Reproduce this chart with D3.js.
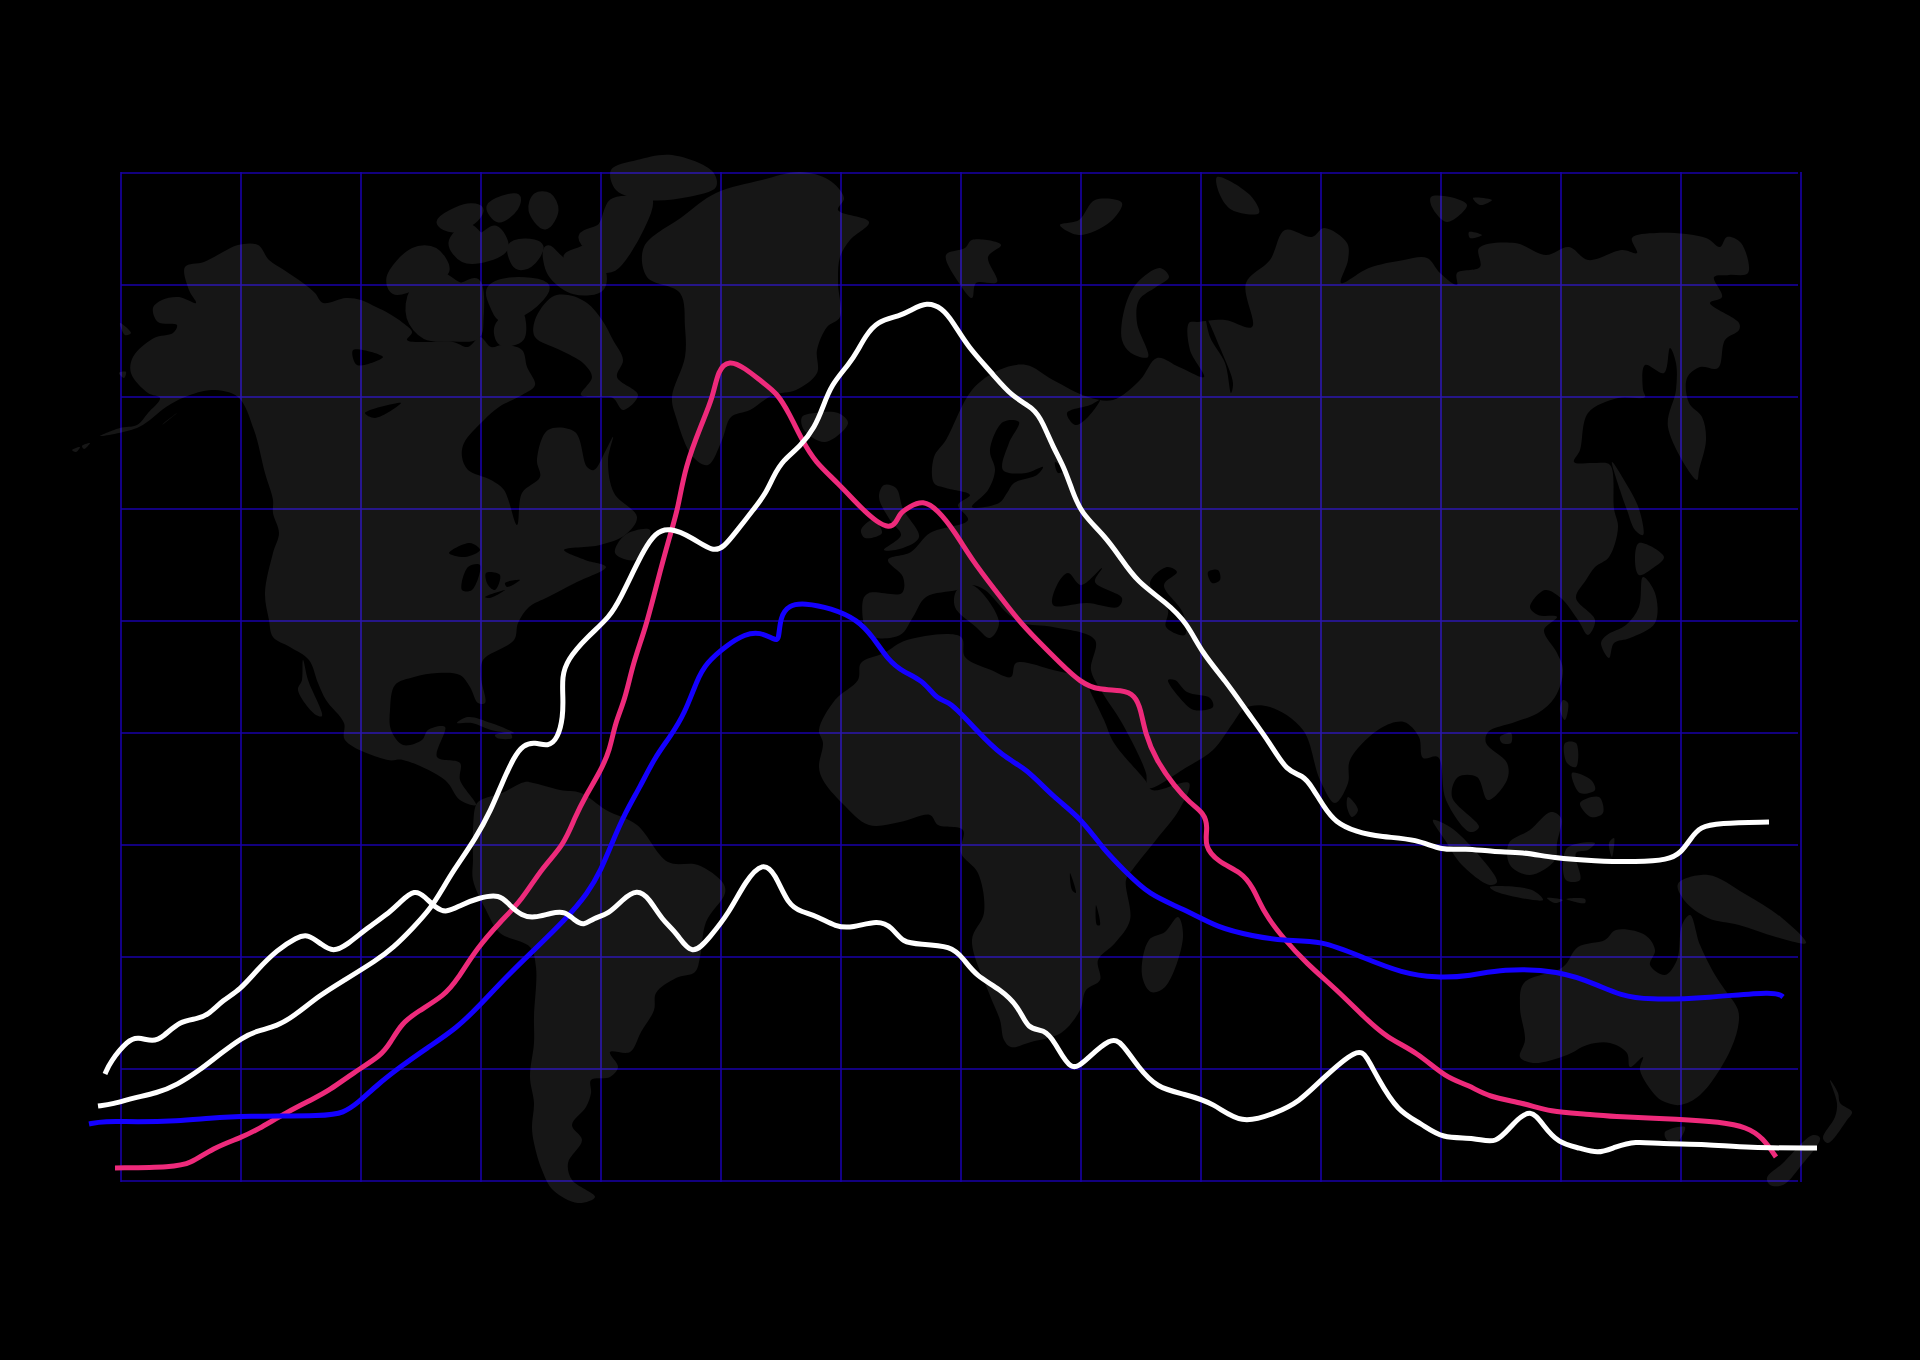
<!DOCTYPE html>
<html><head><meta charset="utf-8">
<script src="https://cdn.jsdelivr.net/npm/d3@7"></script>
<style>html,body{margin:0;background:#000;overflow:hidden}svg{display:block}</style>
</head><body><svg id="c" width="1920" height="1360"></svg>
<script>
// Series values: [horizontal value, vertical value]
const whiteTall=[[-23,75],[-8,77],[12,83],[36,88],[56,96],[79,111],[99,127],[122,144],[136,150],[156,155],[172,164],[199,186],[222,200],[256,221],[272,233],[292,253],[310,273],[321,291],[332,310],[355,343],[370,371],[381,398],[393,424],[402,436],[414,439],[427,434],[437,443],[442,464],[442,484],[441,504],[446,521],[466,544],[489,564],[500,584],[513,611],[523,631],[534,648],[548,654],[572,643],[592,629],[603,634],[614,648],[633,672],[645,688],[652,704],[662,721],[679,734],[694,754],[702,774],[710,796],[729,818],[737,831],[744,844],[756,860],[779,865],[790,871],[806,879],[821,873],[832,859],[847,834],[870,809],[891,784],[913,773],[922,758],[932,734],[943,714],[951,691],[960,668],[983,646],[999,624],[1016,599],[1046,578],[1066,558],[1081,528],[1104,501],[1127,468],[1149,438],[1166,409],[1182,406],[1191,394],[1203,374],[1214,359],[1235,349],[1260,344],[1296,342],[1321,330],[1344,333],[1371,329],[1402,329],[1432,323],[1474,320],[1516,319],[1547,321],[1560,328],[1570,343],[1579,354],[1597,358],[1648,359]];
const whiteLow=[[-16,107],[-11,119],[7,141],[17,144],[32,139],[42,144],[59,160],[76,162],[87,166],[102,181],[119,191],[136,211],[156,231],[176,244],[187,247],[201,236],[212,229],[226,236],[246,253],[267,267],[279,279],[294,292],[304,284],[315,273],[325,268],[340,276],[357,283],[379,287],[388,276],[401,265],[413,263],[430,268],[444,270],[453,261],[463,255],[472,263],[488,267],[501,281],[516,292],[528,283],[541,261],[556,248],[571,224],[589,244],[608,268],[625,301],[642,319],[654,308],[667,276],[681,269],[696,265],[715,254],[731,253],[757,261],[771,254],[782,238],[799,237],[830,235],[842,223],[855,205],[879,192],[898,174],[907,151],[923,152],[934,139],[950,108],[965,121],[990,144],[1001,138],[1017,114],[1036,93],[1063,87],[1093,78],[1120,56],[1155,68],[1178,79],[1200,101],[1237,134],[1246,124],[1256,104],[1277,69],[1300,58],[1321,42],[1354,44],[1375,36],[1392,58],[1410,73],[1422,56],[1437,38],[1459,33],[1477,27],[1494,34],[1514,40],[1539,37],[1586,37],[1626,33],[1696,33]];
const pinkSeries=[[-6,13],[52,14],[69,17],[92,33],[119,43],[136,51],[166,69],[192,82],[209,91],[232,108],[261,126],[269,138],[281,158],[296,169],[324,186],[336,201],[356,233],[379,259],[401,281],[420,312],[443,336],[454,364],[464,384],[479,409],[489,431],[494,458],[504,481],[512,518],[525,554],[536,598],[549,646],[557,672],[564,714],[581,758],[592,784],[597,811],[608,821],[624,813],[641,799],[656,788],[668,768],[681,741],[694,719],[717,698],[742,671],[756,659],[768,653],[775,658],[779,668],[788,674],[802,681],[817,671],[834,649],[851,621],[874,591],[897,561],[916,541],[939,518],[960,498],[978,491],[1001,491],[1014,486],[1020,471],[1024,448],[1035,421],[1054,394],[1069,378],[1083,368],[1087,354],[1083,335],[1097,319],[1120,309],[1132,294],[1143,268],[1162,243],[1185,218],[1216,191],[1243,164],[1266,143],[1296,129],[1325,103],[1348,96],[1367,84],[1403,78],[1429,69],[1466,67],[1496,64],[1559,62],[1599,59],[1626,54],[1642,43],[1655,24]];
const blueSeries=[[-32,57],[-18,60],[16,59],[56,60],[89,63],[122,65],[206,65],[222,68],[237,78],[256,96],[279,114],[306,133],[336,153],[359,176],[386,205],[413,231],[444,261],[467,288],[480,311],[491,338],[504,368],[519,394],[534,424],[549,444],[564,468],[576,501],[585,518],[606,536],[624,547],[639,549],[654,541],[658,541],[659,564],[668,576],[683,578],[710,573],[737,561],[752,544],[767,521],[782,509],[802,501],[817,480],[828,481],[855,451],[882,424],[905,413],[932,384],[960,363],[982,332],[1003,311],[1028,286],[1063,272],[1097,253],[1132,245],[1162,240],[1200,241],[1243,223],[1281,208],[1315,203],[1350,205],[1380,212],[1438,211],[1479,195],[1499,186],[1526,181],[1587,183],[1655,190],[1662,184]];
const xTickValues=[0,120,240,360,480,600,720,840,960,1080,1200,1320,1440,1560,1680];
const yTickValues=[0,112,224,336,448,560,672,784,896,1008];

// Background map outlines
const arcticRings=[
[[491,290],[510,282],[545,287],[529,307],[502,317],[495,307]],
[[391,278],[414,252],[434,252],[445,270],[426,280],[395,290]],
[[414,292],[437,275],[460,287],[476,283],[479,320],[476,335],[453,337],[426,335],[411,317]],
[[499,327],[518,313],[520,337],[502,341]],
[[441,222],[468,208],[479,210],[472,220],[453,228]],
[[453,243],[468,228],[481,237],[495,230],[504,247],[487,257],[464,258]],
[[491,207],[516,198],[514,207],[499,218]],
[[512,247],[525,243],[539,247],[529,263],[518,265]],
[[537,197],[548,197],[554,210],[545,225],[533,210]],
[[548,250],[564,263],[600,270],[600,287],[575,290],[552,273]],
[[568,257],[587,247],[583,237],[602,227],[613,203],[632,200],[648,200],[640,227],[613,267],[602,268],[583,260]]
];
const landRings=[
[[100,436],[120,428],[137,425],[148,413],[160,398],[148,393],[131,373],[133,357],[154,338],[173,333],[177,325],[158,322],[153,308],[162,300],[179,297],[196,303],[189,290],[185,267],[204,262],[223,252],[238,245],[258,245],[269,260],[284,270],[303,283],[315,293],[323,303],[346,298],[361,300],[376,307],[388,313],[403,323],[412,332],[407,340],[430,342],[453,342],[468,347],[480,337],[491,347],[503,345],[522,350],[527,367],[535,385],[522,395],[499,407],[484,420],[464,443],[462,457],[468,470],[491,480],[504,490],[517,525],[522,493],[540,477],[537,460],[548,430],[575,432],[587,467],[594,470],[606,450],[613,437],[608,460],[614,493],[637,517],[625,535],[600,545],[564,550],[585,560],[606,567],[575,583],[548,597],[529,607],[518,623],[514,640],[483,660],[481,677],[485,703],[478,703],[470,687],[460,675],[437,673],[414,677],[395,685],[390,710],[391,730],[403,745],[422,740],[428,730],[445,727],[437,757],[460,763],[460,780],[476,805],[460,800],[445,780],[403,760],[388,760],[345,740],[344,723],[326,700],[318,683],[309,660],[290,647],[273,637],[269,620],[265,593],[273,553],[279,533],[273,513],[273,500],[265,473],[254,430],[238,397],[212,390],[185,397],[166,407],[139,427]],
[[535,320],[552,297],[568,295],[587,303],[602,320],[613,340],[623,360],[617,377],[638,395],[623,410],[613,398],[598,397],[581,395],[592,377],[583,363],[560,350],[535,337]],
[[611,170],[637,160],[672,155],[713,172],[716,187],[688,197],[647,200],[616,190]],
[[615,553],[625,535],[650,530],[635,560]],
// Greenland
[[644,247],[682,217],[716,193],[762,180],[800,172],[829,180],[844,198],[838,210],[869,222],[850,240],[840,257],[838,283],[840,317],[827,327],[817,350],[817,373],[796,390],[773,395],[750,410],[731,417],[722,440],[708,465],[693,457],[676,417],[672,397],[685,357],[685,327],[680,293],[647,277]],
[[802,417],[815,413],[838,413],[848,423],[825,442],[804,430]],
[[946,255],[965,248],[972,240],[1001,245],[988,257],[997,282],[976,283],[972,298],[959,283]],
[[1060,225],[1079,220],[1095,200],[1122,203],[1110,222],[1079,235]],
[[1160,268],[1169,277],[1156,287],[1139,300],[1137,323],[1148,357],[1131,353],[1122,340],[1125,307],[1137,283]],
[[1217,177],[1250,195],[1259,213],[1232,210],[1220,195]],
[[1431,197],[1450,197],[1467,205],[1447,222],[1432,207]],
[[1473,198],[1492,200],[1480,205]],
[[1469,232],[1482,235],[1470,238]],
// Eurasia
[[1053,627],[1022,623],[1007,613],[985,590],[972,585],[957,590],[926,597],[913,617],[900,635],[869,635],[863,600],[869,593],[902,593],[903,577],[888,560],[911,552],[930,533],[968,520],[958,505],[970,495],[946,488],[934,483],[934,457],[946,440],[972,390],[999,370],[1026,365],[1053,380],[1088,397],[1113,400],[1140,380],[1157,358],[1179,367],[1204,377],[1190,350],[1189,323],[1198,322],[1225,320],[1252,327],[1246,283],[1270,260],[1285,230],[1312,237],[1324,228],[1347,243],[1348,260],[1341,283],[1369,268],[1404,260],[1427,258],[1440,273],[1457,285],[1457,273],[1480,267],[1479,248],[1515,243],[1546,255],[1569,247],[1588,260],[1622,250],[1637,253],[1632,238],[1657,233],[1706,238],[1720,247],[1727,237],[1741,243],[1748,273],[1729,275],[1714,277],[1722,297],[1710,303],[1739,323],[1739,330],[1725,340],[1718,368],[1700,367],[1687,378],[1689,403],[1702,417],[1706,440],[1699,470],[1697,480],[1668,427],[1676,390],[1676,363],[1670,348],[1664,373],[1645,365],[1643,390],[1645,397],[1618,398],[1588,413],[1580,450],[1574,462],[1595,463],[1610,465],[1614,509],[1618,527],[1609,557],[1595,567],[1586,580],[1576,598],[1595,620],[1588,635],[1578,620],[1561,598],[1545,590],[1530,607],[1538,615],[1557,617],[1544,630],[1557,653],[1563,670],[1555,697],[1538,713],[1515,722],[1488,732],[1486,743],[1507,763],[1507,780],[1488,800],[1477,777],[1458,777],[1452,797],[1479,827],[1470,832],[1446,800],[1438,757],[1423,758],[1419,737],[1404,722],[1381,728],[1350,760],[1348,783],[1335,803],[1320,780],[1303,730],[1270,707],[1245,708],[1233,723],[1213,750],[1187,767],[1148,788],[1146,773],[1122,723],[1102,692],[1091,670],[1095,640]],
[[957,590],[972,585],[999,622],[990,638],[976,627],[955,607]],
[[884,485],[896,488],[903,509],[919,537],[903,548],[884,550],[901,535],[890,520],[879,497]],
[[861,530],[873,520],[882,533],[865,538]],
[[1348,797],[1358,810],[1352,817],[1347,807]],
[[1500,737],[1511,733],[1511,743],[1502,743]],
[[1563,700],[1568,703],[1565,720],[1560,710]],
[[1601,643],[1607,635],[1626,625],[1639,607],[1643,577],[1655,593],[1655,623],[1630,638],[1614,643],[1609,658]],
[[1639,543],[1664,557],[1653,568],[1639,575],[1635,560]],
[[1612,462],[1624,480],[1639,509],[1643,535],[1635,530],[1627,510],[1620,490]],
[[1565,743],[1576,743],[1576,767],[1567,763]],
[[1572,773],[1591,780],[1595,790],[1580,793]],
[[1580,803],[1599,797],[1603,813],[1591,817]],
[[1433,820],[1450,827],[1477,853],[1497,882],[1490,885],[1462,865],[1445,840]],
[[1509,843],[1530,830],[1551,812],[1561,818],[1557,843],[1555,860],[1530,875],[1510,865]],
[[1490,887],[1532,890],[1543,900],[1497,892]],
[[1547,898],[1563,900],[1555,903]],
[[1566,899],[1585,899],[1585,903]],
[[1567,848],[1595,843],[1588,850],[1576,853],[1580,880],[1566,880]],
[[1609,843],[1614,838],[1612,857]],
[[1678,884],[1708,875],[1745,894],[1782,918],[1806,943],[1776,937],[1739,925],[1708,918],[1684,900]],
// Australia, Tasmania, New Zealand
[[1524,983],[1563,967],[1578,947],[1605,940],[1616,930],[1645,935],[1655,950],[1650,965],[1665,975],[1677,960],[1682,925],[1690,915],[1700,945],[1715,975],[1725,990],[1738,1010],[1738,1027],[1727,1057],[1700,1095],[1680,1105],[1665,1102],[1657,1097],[1640,1070],[1643,1057],[1630,1067],[1627,1053],[1610,1043],[1587,1045],[1567,1055],[1533,1063],[1520,1057],[1525,1040],[1520,1007]],
[[1665,1132],[1685,1127],[1677,1142],[1667,1140]],
[[1767,1178],[1783,1163],[1813,1135],[1820,1138],[1800,1167],[1783,1185],[1770,1185]],
[[1830,1080],[1838,1093],[1840,1103],[1852,1112],[1847,1120],[1828,1143],[1823,1138],[1835,1117],[1837,1103]],
[[1178,917],[1183,937],[1165,987],[1151,992],[1142,975],[1149,940],[1165,932]],
// Africa
[[819,730],[835,700],[858,680],[861,663],[884,653],[907,640],[961,637],[965,657],[991,670],[1011,677],[1016,663],[1053,670],[1085,680],[1091,693],[1104,720],[1114,743],[1145,780],[1152,790],[1189,783],[1179,810],[1156,840],[1133,869],[1126,880],[1130,920],[1115,943],[1098,960],[1100,980],[1086,990],[1080,1010],[1061,1033],[1031,1042],[1011,1047],[1004,1040],[1000,1020],[989,993],[972,940],[984,913],[978,873],[961,853],[963,830],[938,825],[930,815],[900,822],[869,825],[842,803],[823,780],[819,767],[823,743]],
// South America
[[481,800],[502,793],[525,782],[533,783],[560,790],[581,793],[606,810],[637,825],[668,862],[698,865],[723,883],[725,893],[706,922],[700,957],[695,972],[676,978],[656,993],[654,1010],[641,1032],[630,1052],[610,1052],[618,1067],[610,1077],[591,1080],[591,1093],[586,1107],[572,1125],[582,1140],[568,1163],[572,1180],[595,1197],[578,1203],[553,1190],[542,1170],[534,1143],[532,1127],[534,1103],[530,1077],[534,1043],[534,1017],[536,967],[530,947],[500,933],[486,910],[473,880],[473,860],[473,830],[476,805]],
[[457,723],[468,717],[491,723],[514,733],[491,730],[472,723]],
[[495,735],[510,733],[512,738],[497,738]],
[[303,660],[308,680],[322,716],[316,715],[298,690],[302,680]],
[[72,450],[80,447],[76,452]],[[82,446],[90,443],[84,449]],[[120,323],[131,333],[125,335]],[[119,373],[126,372],[124,378]],[[162,425],[177,413],[165,422]]
];
const holeRings=[
[[449,553],[470,543],[480,550],[465,557]],
[[462,590],[468,567],[480,565],[472,590]],
[[486,573],[500,575],[495,590],[488,585]],
[[485,597],[505,590],[490,598]],
[[505,583],[520,580],[507,587]],
[[353,350],[383,357],[357,365]],
[[365,413],[401,403],[375,418]],
[[1003,422],[1019,422],[1009,443],[1003,470],[1026,473],[1043,467],[1037,475],[1014,483],[1007,493],[999,503],[972,507],[988,490],[995,470],[990,450]],
[[1067,413],[1090,405],[1100,400],[1085,420],[1075,425]],
[[1055,462],[1065,470],[1058,473]],
[[1206,317],[1221,350],[1233,383],[1231,393],[1225,363],[1210,337]],
[[1053,605],[1057,585],[1068,573],[1081,585],[1102,568],[1095,582],[1122,598],[1118,607],[1087,603]],
[[1150,583],[1167,567],[1177,572],[1164,585],[1183,613],[1185,635],[1166,627],[1168,610]],
[[1208,572],[1218,570],[1220,580],[1212,583]],
[[1168,680],[1179,697],[1194,710],[1213,707],[1210,698],[1187,692],[1175,680]],
[[1105,1027],[1113,1027],[1111,1040],[1105,1038]],
[[1070,873],[1076,893],[1072,890]],
[[1096,905],[1100,925],[1097,925]]
];

const svg=d3.select("#c");
svg.append("rect").attr("width",1920).attr("height",1360).attr("fill","#000");

const x=d3.scaleLinear().domain([0,1680]).range([121,1801]);
const y=d3.scaleLinear().domain([0,1008]).range([1181,173]);

// Grid
const grid=svg.append("g").attr("stroke","#1800a8").attr("stroke-width",1.6).attr("fill","none");
grid.selectAll("line.v").data(xTickValues).join("line").attr("class","v")
  .attr("x1",d=>x(d)).attr("x2",d=>x(d)).attr("y1",y(1008)-1).attr("y2",y(0)+1);
grid.selectAll("line.h").data(yTickValues).join("line").attr("class","h")
  .attr("x1",x(0)).attr("x2",x(1677)).attr("y1",d=>y(d)).attr("y2",d=>y(d));

// Land, laid over the grid as a faint veil
const ringPath=d3.line().curve(d3.curveCatmullRomClosed.alpha(0.5));
const mask=svg.append("defs").append("mask").attr("id","landMask")
  .attr("maskUnits","userSpaceOnUse").attr("x",0).attr("y",0).attr("width",1920).attr("height",1360);
mask.append("rect").attr("width",1920).attr("height",1360).attr("fill","#000");
mask.selectAll("path.a").data(arcticRings).join("path").attr("class","a").attr("d",ringPath)
  .attr("fill","#fff").attr("stroke","#fff").attr("stroke-width",9).attr("stroke-linejoin","round");
mask.selectAll("path.l").data(landRings).join("path").attr("class","l").attr("d",ringPath).attr("fill","#fff");
mask.selectAll("path.o").data(holeRings).join("path").attr("class","o").attr("d",ringPath).attr("fill","#000");
svg.append("rect").attr("width",1920).attr("height",1360).attr("fill","#fff").attr("fill-opacity",0.086).attr("mask","url(#landMask)");

// Lines
const line=d3.line().x(d=>x(d[0])).y(d=>y(d[1])).curve(d3.curveBasis);
const drawn=[[pinkSeries,"#ee2a7b"],[blueSeries,"#1400ff"],[whiteTall,"#ffffff"],[whiteLow,"#ffffff"]];
svg.selectAll("path.series").data(drawn).join("path").attr("class","series")
  .attr("d",d=>line(d[0])).attr("fill","none").attr("stroke",d=>d[1])
  .attr("stroke-width",5).attr("stroke-linejoin","round").attr("stroke-linecap","butt");
</script></body></html>
